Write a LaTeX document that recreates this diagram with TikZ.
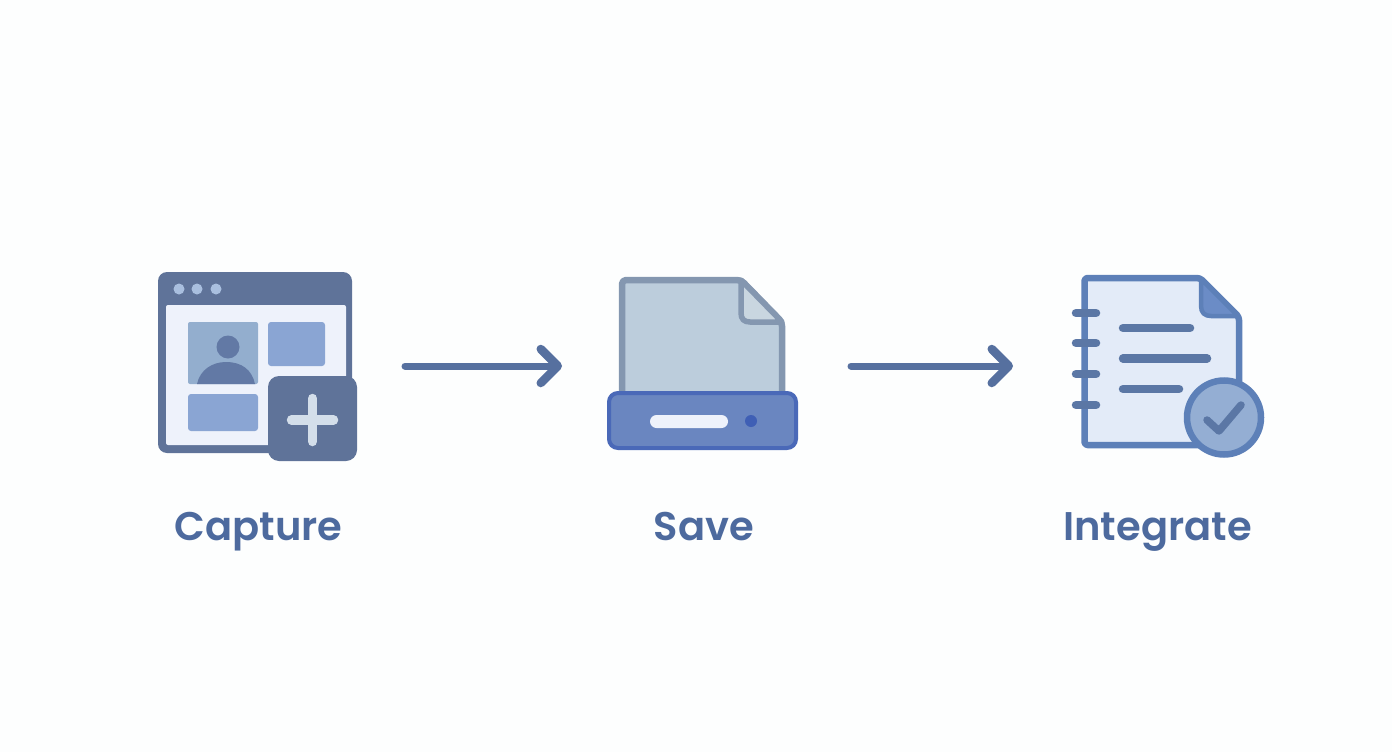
\documentclass[tikz,border=0pt]{standalone}
\usepackage{fontspec}
\setmainfont{Poppins}[UprightFont=* SemiBold]
\usetikzlibrary{arrows.meta,positioning}
\definecolor{slate}{HTML}{5F7399}
\definecolor{slatetext}{HTML}{4D6A9E}
\definecolor{arrowblue}{HTML}{56709F}
\definecolor{paleblue}{HTML}{EEF2FB}
\definecolor{midblue}{HTML}{8AA5D3}
\definecolor{photoblue}{HTML}{93AECE}
\definecolor{headblue}{HTML}{6279A5}
\definecolor{plusgrey}{HTML}{D3DEEA}
\definecolor{dotblue}{HTML}{A9BFDF}
\definecolor{sheetgrey}{HTML}{BCCDDC}
\definecolor{foldgrey}{HTML}{C9D6E0}
\definecolor{edgegrey}{HTML}{8497B0}
\definecolor{trayblue}{HTML}{6A86C0}
\definecolor{trayedge}{HTML}{4A69B8}
\definecolor{ledblue}{HTML}{3F5FB5}
\definecolor{pageblue}{HTML}{E3EBF8}
\definecolor{pageedge}{HTML}{5D80B8}
\definecolor{foldblue}{HTML}{6B8CC6}
\definecolor{ringblue}{HTML}{5B77A5}
\definecolor{checkfill}{HTML}{94AED3}
\definecolor{canvas}{HTML}{FDFEFE}
\begin{document}
\begin{tikzpicture}[x=1pt,y=-1pt]
       \tikzstyle{iconbox}=[minimum height=190pt, inner sep=0pt, outer sep=0pt]
       \tikzstyle{steplabel}=[text=slatetext, font=\fontsize{40}{44}\selectfont, anchor=base]
       \tikzstyle{flowarrow}=[draw=arrowblue, line width=7pt, line cap=round, -{Straight Barb[length=17pt,width=34pt,line width=8.5pt,round]}]
       \tikzstyle{textbar}=[draw=ringblue, line width=8.5pt, line cap=round]
       \useasboundingbox (0,0) rectangle (1392,752);
       \fill[canvas] (0,0) rectangle (1392,752);

       \node[iconbox, minimum width=199pt] (capture) at (257.5,366) {};
       \node[iconbox, minimum width=190pt] (save) at (702,366) {};
       \node[iconbox, minimum width=192pt] (integrate) at (1168,366) {};

       \fill[slate, rounded corners=9pt] (158,272) rectangle (352,453);
       \fill[paleblue, rounded corners=2pt] (166,305) rectangle (346,445);
       \foreach \dotx in {179,197,216}
        \fill[dotblue] (\dotx,289) circle (5.5);
       \fill[photoblue, rounded corners=2pt] (188,322) rectangle (258,384);
       \fill[headblue] (228,347) circle (11.5);
       \fill[headblue] (197,384) .. controls (200,370) and (212,362) .. (226,362) .. controls (242,362) and (252,370) .. (255,384) -- cycle;
       \fill[midblue, rounded corners=3pt] (268,322) rectangle (325,366);
       \fill[midblue, rounded corners=3pt] (188,394) rectangle (258,431);
       \fill[slate, rounded corners=11pt] (268,376) rectangle (357,461);
       \draw[plusgrey, line width=9.5pt, line cap=round] (291.5,420) -- (333.5,420);
       \draw[plusgrey, line width=9.5pt, line cap=round] (312.5,398.5) -- (312.5,441.5);

       \fill[sheetgrey] (622,280) -- (740,280) -- (782,322) -- (782,395) -- (622,395) -- cycle;
       \draw[edgegrey, line width=6.5pt, line join=round, rounded corners=4pt] (622,395) -- (622,280) -- (741,280) -- (782,322) -- (782,395);
       \draw[edgegrey, fill=foldgrey, line width=5.5pt, line join=round] (741,280) -- (741,313) .. controls (741,319) and (744,322) .. (750,322) -- (782,322) -- cycle;
       \draw[trayedge, fill=trayblue, line width=4pt, rounded corners=9pt] (609,393) rectangle (796,448);
       \fill[paleblue, rounded corners=6.5pt] (650,415) rectangle (728,428);
       \fill[ledblue] (751,421) circle (6);

       \draw[pageedge, fill=pageblue, line width=6.5pt, line join=round, rounded corners=3pt] (1084.5,278) -- (1200,278) -- (1239,317) -- (1239,445) -- (1084.5,445) -- cycle;
       \draw[pageedge, fill=foldblue, line width=4.5pt, line join=round] (1201,279) -- (1201,306) .. controls (1201,313) and (1205,316) .. (1211,316) -- (1238,316) -- cycle;
       \foreach \ringy in {313,343,374,405}
        \draw[textbar] (1076,\ringy) -- (1096,\ringy);
       \draw[textbar] (1123,328) -- (1190,328);
       \draw[textbar] (1123,358.5) -- (1207,358.5);
       \draw[textbar] (1123,389) -- (1179,389);
       \draw[pageedge, fill=checkfill, line width=6.5pt] (1224,417.5) circle (37);
       \draw[ringblue, line width=7.5pt, line cap=round, line join=round] (1207,420) -- (1219,431) -- (1241,405);

       \node[steplabel] (capturelabel) at (258.5,540) {Capture};
       \node[steplabel] (savelabel) at (704,540) {Save};
       \node[steplabel] (integratelabel) at (1157.5,540) {Integrate};

       \draw[flowarrow, shorten <=48pt, shorten >=45pt] (capture) -- (save);
       \draw[flowarrow, shorten <=54pt, shorten >=59pt] (save) -- (integrate);
      \end{tikzpicture}
\end{document}
